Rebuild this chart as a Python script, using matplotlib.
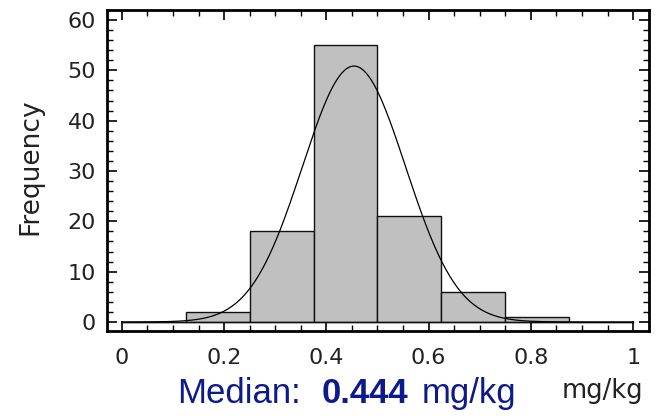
import numpy as np
import matplotlib
matplotlib.use("Agg")
import matplotlib.pyplot as plt
from matplotlib.ticker import MultipleLocator
from matplotlib import font_manager as fm

# data
bin_edges = [0.0, 0.125, 0.25, 0.375, 0.5, 0.625, 0.75, 0.875, 1.0]
counts = [0, 2, 18, 55, 21, 6, 1, 0]
fit_mean = 0.454
fit_sd = 0.101
median_value = "0.444"
x_ticks = [0, 0.2, 0.4, 0.6, 0.8, 1]
x_tick_labels = ["0", "0.2", "0.4", "0.6", "0.8", "1"]
y_ticks = [0, 10, 20, 30, 40, 50, 60]

lib_reg = None
lib_bold = None
for f in fm.fontManager.ttflist:
    fn = f.fname.lower()
    if fn.endswith("liberationsans-regular.ttf"):
        lib_reg = f.fname
    if fn.endswith("liberationsans-bold.ttf"):
        lib_bold = f.fname

def fp(path, size, fallback_weight="normal"):
    if path:
        return fm.FontProperties(fname=path, size=size)
    return fm.FontProperties(family="DejaVu Sans", weight=fallback_weight, size=size)

fig = plt.figure(figsize=(6.57, 4.16), dpi=100)
ax = fig.add_axes([0.1629, 0.2043, 0.8249, 0.7717])

lefts = np.array(bin_edges[:-1])
widths = np.diff(bin_edges)
ax.bar(lefts, counts, width=widths, align="edge", color="#c0c0c0",
       edgecolor="#111111", linewidth=1.0, zorder=2)
ax.plot([bin_edges[0], bin_edges[-1]], [0, 0], color="#111111", lw=1.0, zorder=2)

n = sum(counts)
bw = widths[0]
xs = np.linspace(bin_edges[0], bin_edges[-1], 400)
ys = n * bw / (fit_sd * np.sqrt(2 * np.pi)) * np.exp(-0.5 * ((xs - fit_mean) / fit_sd) ** 2)
ax.plot(xs, ys, color="black", lw=0.9, zorder=3)

ax.set_xlim(-0.029, 1.031)
ax.set_ylim(-1.8, 62)
ax.set_xticks(x_ticks)
ax.set_xticklabels(x_tick_labels)
ax.set_yticks(y_ticks)
ax.xaxis.set_minor_locator(MultipleLocator(0.05))
ax.yaxis.set_minor_locator(MultipleLocator(2))
ax.tick_params(which="both", direction="in", top=True, right=True,
               labelsize=16, colors="black")
ax.tick_params(which="major", length=7, width=1.2)
ax.tick_params(which="minor", length=4, width=1.0)
ax.tick_params(axis="x", which="major", pad=12)
ax.tick_params(axis="y", which="major", pad=8)
for s in ax.spines.values():
    s.set_linewidth(2)
    s.set_color("black")

for lab in ax.get_xticklabels() + ax.get_yticklabels():
    lab.set_color("#222222")

fig.text(30 / 657, 1 - 167 / 416, "Frequency", fontsize=19, color="#222222",
         rotation=90, ha="center", va="center")

base_y = 13 / 416
navy = "#0d1a8c"
fig.text(177 / 657, base_y, "Median:", fontproperties=fp(lib_reg, 25), color=navy,
         ha="left", va="baseline")
fig.text(322 / 657, base_y, median_value, fontproperties=fp(lib_bold, 25, "bold"),
         color=navy, ha="left", va="baseline")
fig.text(422 / 657, base_y, "mg/kg", fontproperties=fp(lib_reg, 25), color=navy,
         ha="left", va="baseline")
fig.text(643 / 657, (416 - 398) / 416, "mg/kg", fontsize=18.5, color="#222222",
         ha="right", va="baseline")

fig.savefig("out.png", dpi=100)
